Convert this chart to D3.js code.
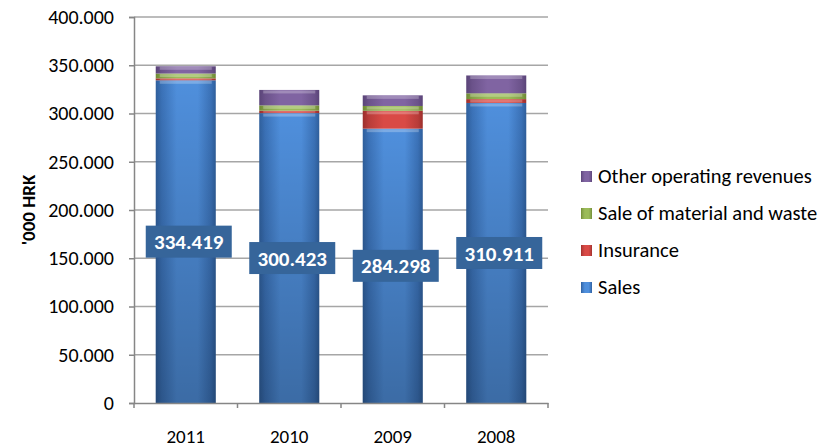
<!DOCTYPE html>
<html>
<head>
<meta charset="utf-8">
<script src="https://cdn.jsdelivr.net/npm/d3@7"></script>
<style>
  body { margin: 0; background: #fff; }
  text { font-family: Carlito, Calibri, "Open Sans", sans-serif; }
</style>
</head>
<body>
<svg id="chart" width="830" height="447"></svg>
<script>
const years = ["2011", "2010", "2009", "2008"];
const sales = [334.419, 300.423, 284.298, 310.911];
const insurance = [2.0, 2.5, 18.5, 4.0];
const material = [5.0, 5.5, 5.0, 6.0];
const other = [7.5, 16.0, 11.0, 18.5];
const seriesNames = ["Sales", "Insurance", "Sale of material  and waste", "Other operating revenues"];
const yTicks = [0, 50, 100, 150, 200, 250, 300, 350, 400];

const colors = {
  "Sales": ["#2f5f9c", "#4f8fdc", "#6aa6ec", "#3b72b8"],
  "Insurance": ["#9c2f2c", "#d94a46", "#f06a66", "#b83c39"],
  "Sale of material  and waste": ["#6f8a34", "#9bbb59", "#b9d67a", "#84a048"],
  "Other operating revenues": ["#5a4478", "#8064a2", "#a48ac6", "#6b528a"]
};

const svg = d3.select("#chart");
const margin = { left: 134, right: 282, top: 17, bottom: 44 };
const width = 830 - margin.left - margin.right;
const height = 447 - margin.top - margin.bottom;

const defs = svg.append("defs");
Object.entries(colors).forEach(([name, c], i) => {
  const gr = defs.append("linearGradient").attr("id", "g" + i)
    .attr("x1", 0).attr("x2", 1).attr("y1", 0).attr("y2", 0);
  gr.append("stop").attr("offset", "0%").attr("stop-color", c[0]);
  gr.append("stop").attr("offset", "10%").attr("stop-color", c[3]);
  gr.append("stop").attr("offset", "35%").attr("stop-color", c[1]);
  gr.append("stop").attr("offset", "70%").attr("stop-color", c[1]);
  gr.append("stop").attr("offset", "92%").attr("stop-color", c[3]);
  gr.append("stop").attr("offset", "100%").attr("stop-color", c[0]);
});
const shade = defs.append("linearGradient").attr("id", "shade")
  .attr("x1", 0).attr("x2", 0).attr("y1", 0).attr("y2", 1);
shade.append("stop").attr("offset", "0%").attr("stop-color", "#000").attr("stop-opacity", 0);
shade.append("stop").attr("offset", "100%").attr("stop-color", "#000").attr("stop-opacity", 0.25);

const g = svg.append("g").attr("transform", `translate(${margin.left},${margin.top})`);

const x = d3.scaleBand().domain(years).range([0, width]).paddingInner(0.42).paddingOuter(0.21);
const y = d3.scaleLinear().domain([0, 400]).range([height, 0]);

// gridlines
g.append("g").selectAll("line")
  .data(yTicks.filter(d => d > 0))
  .join("line")
  .attr("x1", 0).attr("x2", width)
  .attr("y1", d => y(d)).attr("y2", d => y(d))
  .attr("stroke", "#a6a6a6").attr("stroke-width", 1.5);

// stacked data
const rows = years.map((yr, i) => ({
  year: yr,
  "Sales": sales[i],
  "Insurance": insurance[i],
  "Sale of material  and waste": material[i],
  "Other operating revenues": other[i]
}));
const stack = d3.stack().keys(seriesNames)(rows);

const layers = g.append("g").selectAll("g")
  .data(stack)
  .join("g");

layers.selectAll("rect.seg")
  .data((d, i) => d.map(p => ({ p, i })))
  .join("rect")
  .attr("class", "seg")
  .attr("x", d => x(d.p.data.year))
  .attr("width", x.bandwidth())
  .attr("y", d => y(d.p[1]))
  .attr("height", d => y(d.p[0]) - y(d.p[1]))
  .attr("fill", d => `url(#g${d.i})`);

// top bevel highlight on each segment
layers.selectAll("rect.hl")
  .data((d, i) => d.map(p => ({ p, i })))
  .join("rect")
  .attr("class", "hl")
  .attr("x", d => x(d.p.data.year) + 4)
  .attr("width", x.bandwidth() - 8)
  .attr("y", d => y(d.p[1]) + 0.5)
  .attr("height", d => Math.min(3, y(d.p[0]) - y(d.p[1]) - 1))
  .attr("fill", "#fff").attr("opacity", 0.25);

// darken sales toward bottom
g.append("g").selectAll("rect")
  .data(stack[0])
  .join("rect")
  .attr("x", d => x(d.data.year))
  .attr("width", x.bandwidth())
  .attr("y", d => y(d[1]))
  .attr("height", d => y(d[0]) - y(d[1]))
  .attr("fill", "url(#shade)");

const font = "Carlito, Calibri, 'Open Sans', sans-serif";

// axes
const yAxis = g.append("g").call(d3.axisLeft(y).tickValues(yTicks).tickSize(5)
  .tickFormat(d => d === 0 ? "0" : d3.format(".3f")(d)));
yAxis.select(".domain").attr("stroke", "#868686").attr("stroke-width", 1.5);
yAxis.selectAll(".tick line").attr("stroke", "#868686").attr("stroke-width", 1.5);
yAxis.selectAll(".tick text").attr("font-size", 20).attr("fill", "#000").attr("x", -20)
  .style("font-family", font);

const xAxis = g.append("g").attr("transform", `translate(0,${height})`)
  .call(d3.axisBottom(x).tickSize(0).tickPadding(27));
xAxis.select(".domain").attr("stroke", "#868686").attr("stroke-width", 1.5);
xAxis.selectAll(".tick text").attr("font-size", 19).attr("fill", "#000")
  .style("font-family", font);
// category boundary ticks
g.append("g").selectAll("line")
  .data(d3.range(years.length + 1))
  .join("line")
  .attr("x1", d => d * width / years.length).attr("x2", d => d * width / years.length)
  .attr("y1", height).attr("y2", height + 5)
  .attr("stroke", "#868686").attr("stroke-width", 1.5);

// y title
svg.append("text")
  .attr("transform", `translate(28,${margin.top + height / 2}) rotate(-90)`)
  .attr("text-anchor", "middle").attr("dy", "0.35em")
  .attr("font-size", 19).attr("font-weight", "bold")
  .text("'000 HRK");

// sales labels
const lab = g.append("g").selectAll("g")
  .data(stack[0])
  .join("g")
  .attr("transform", d => `translate(${x(d.data.year) + x.bandwidth() / 2 + 3},${y(d[1] / 2)})`);
lab.append("rect")
  .attr("x", -43).attr("y", -16).attr("width", 86).attr("height", 32)
  .attr("fill", "#36659a");
lab.append("text")
  .attr("text-anchor", "middle").attr("dy", "0.36em")
  .attr("font-size", 21).attr("font-weight", "bold").attr("fill", "#fff")
  .text(d => d3.format(".3f")(d.data["Sales"]));

// legend
const legendItems = seriesNames.slice().reverse();
const leg = svg.append("g").selectAll("g")
  .data(legendItems)
  .join("g")
  .attr("transform", (d, i) => `translate(581,${176 + i * 37})`);
leg.append("rect")
  .attr("x", 0).attr("y", -5).attr("width", 11).attr("height", 11)
  .attr("fill", d => `url(#g${seriesNames.indexOf(d)})`);
leg.append("text")
  .attr("x", 17).attr("dy", "0.35em")
  .attr("font-size", 20.5)
  .text(d => d);
</script>
</body>
</html>
